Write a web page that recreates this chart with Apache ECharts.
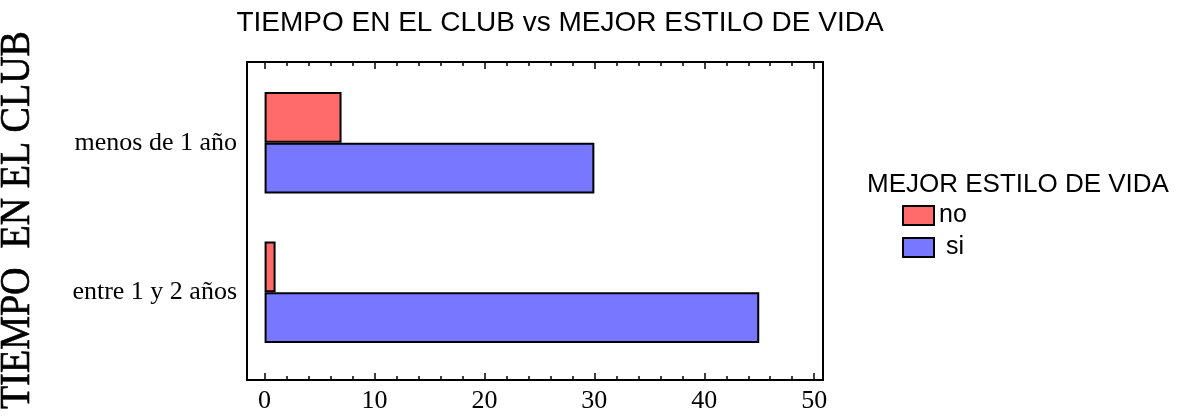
<!DOCTYPE html>
<html>
<head>
<meta charset="utf-8">
<script src="https://cdn.jsdelivr.net/npm/echarts@6/dist/echarts.min.js"></script>
<style>
  html, body { margin: 0; padding: 0; background: #fff; }
  #chart { width: 1188px; height: 417px; }
</style>
</head>
<body>
<div id="chart"></div>
<script>
var categories = ['menos de 1 año', 'entre 1 y 2 años']
var noValues = [7, 1]
var siValues = [30, 45]
var majorTicks = [0, 10, 20, 30, 40, 50]
var minorTicks = [2, 4, 6, 8, 12, 14, 16, 18, 22, 24, 26, 28, 32, 34, 36, 38, 42, 44, 46, 48]

var xMin = -1.6
var xMax = 50.8

// box axes live on grid 0, bars on grid 1 (same x range)
function tickAxis (grid, pos, values, len, showLabel) {
  return {
    type: 'value',
    gridIndex: grid,
    position: pos,
    min: xMin,
    max: xMax,
    axisLine: { show: false },
    splitLine: { show: false },
    axisTick: {
      show: len > 0,
      inside: true,
      length: len,
      customValues: values,
      lineStyle: { color: '#000', width: 1.5 }
    },
    axisLabel: {
      show: showLabel,
      customValues: values,
      fontFamily: 'Liberation Serif',
      fontSize: 26,
      color: '#000',
      margin: 8
    }
  }
}

var chart = echarts.init(document.getElementById('chart'))
chart.setOption({
  animation: false,
  backgroundColor: '#fff',
  title: [{
    text: 'TIEMPO EN EL CLUB vs MEJOR ESTILO DE VIDA',
    left: 555,
    top: 4,
    textAlign: 'center',
    textStyle: { fontFamily: 'Liberation Sans', fontSize: 28, fontWeight: 'normal', color: '#000' }
  }, {
    text: 'MEJOR ESTILO DE VIDA',
    left: 867,
    top: 172,
    padding: 0,
    textStyle: { fontFamily: 'Liberation Sans', fontSize: 26, fontWeight: 'normal', color: '#000' }
  }],
  legend: {
    orient: 'vertical',
    left: 902,
    top: 203,
    padding: 0,
    itemWidth: 31,
    itemHeight: 19,
    itemGap: 7,
    icon: 'rect',
    data: ['no', 'si'],
    formatter: function (name) { return name === 'si' ? ' si' : name },
    textStyle: { fontFamily: 'Liberation Sans', fontSize: 25, lineHeight: 19, color: '#000' }
  },
  graphic: [{
    type: 'text',
    x: 18,
    y: 220,
    rotation: Math.PI / 2,
    scaleX: 0.95,
    scaleY: 1.05,
    style: {
      text: 'TIEMPO  EN EL CLUB',
      fontFamily: 'Liberation Serif',
      fontSize: 40,
      fill: '#000',
      stroke: '#000',
      lineWidth: 0.6,
      textAlign: 'center',
      textVerticalAlign: 'middle'
    }
  }],
  grid: [{
    left: 247,
    right: 365,
    top: 62,
    bottom: 37,
    show: true,
    borderColor: '#000',
    borderWidth: 2
  }, {
    left: 247,
    right: 365,
    top: 68,
    bottom: 50
  }],
  xAxis: [
    tickAxis(0, 'bottom', majorTicks, 7, true),
    tickAxis(0, 'bottom', minorTicks, 4, false),
    tickAxis(0, 'top', majorTicks, 7, false),
    tickAxis(0, 'top', minorTicks, 4, false),
    tickAxis(1, 'bottom', majorTicks, 0, false)
  ],
  yAxis: [{
    type: 'category',
    gridIndex: 0,
    show: false,
    data: categories
  }, {
    type: 'category',
    gridIndex: 1,
    inverse: true,
    data: categories,
    axisLine: { show: false },
    axisTick: { show: false },
    axisLabel: { fontFamily: 'Liberation Serif', fontSize: 26, color: '#000', margin: 10 }
  }],
  series: [{
    name: 'no',
    type: 'bar',
    xAxisIndex: 4,
    yAxisIndex: 1,
    data: noValues,
    barGap: 0,
    barCategoryGap: '32%',
    itemStyle: { color: '#ff6a6a', borderColor: '#000', borderWidth: 2 }
  }, {
    name: 'si',
    type: 'bar',
    xAxisIndex: 4,
    yAxisIndex: 1,
    data: siValues,
    barGap: 0,
    barCategoryGap: '32%',
    itemStyle: { color: '#7777ff', borderColor: '#000', borderWidth: 2 }
  }]
})
</script>
</body>
</html>
